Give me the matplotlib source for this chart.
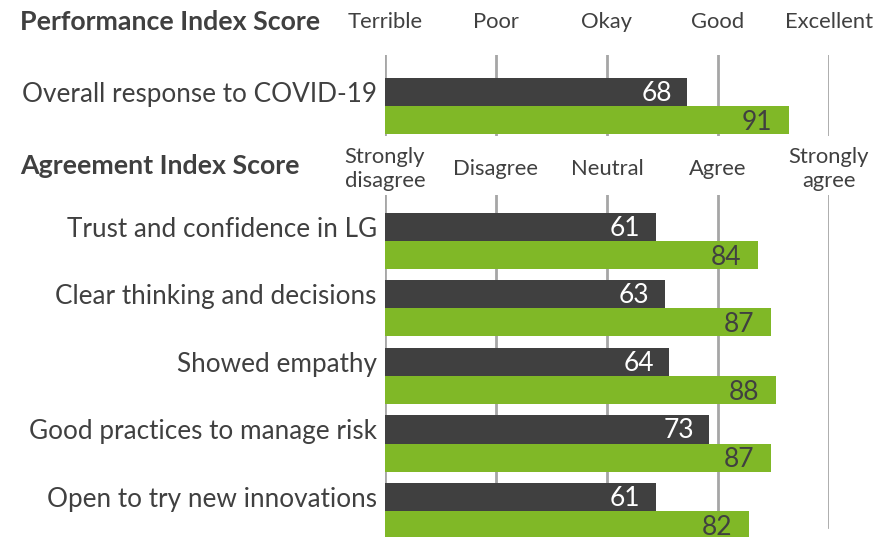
import numpy as np
import matplotlib
matplotlib.use('Agg')
import matplotlib.pyplot as plt

plt.rcParams['font.family'] = ['Lato', 'DejaVu Sans']

# 数据
perf_cats = ['Overall response to COVID-19']
perf_prev = [68]
perf_now = [91]
perf_ticks = ['Terrible', 'Poor', 'Okay', 'Good', 'Excellent']

agree_cats = ['Trust and confidence in LG', 'Clear thinking and decisions',
              'Showed empathy', 'Good practices to manage risk',
              'Open to try new innovations']
agree_prev = [61, 63, 64, 73, 61]
agree_now = [84, 87, 88, 87, 82]
agree_ticks = ['Strongly\ndisagree', 'Disagree', 'Neutral', 'Agree', 'Strongly\nagree']

tick_pos = [0, 25, 50, 75, 100]

DARK = '#404040'
GREEN = '#80B827'
GRID = '#A6A6A6'
TXT = '#404040'

W, H = 878, 537
fig = plt.figure(figsize=(W / 100, H / 100), dpi=100)


def px_axes(x0, y0, x1, y1):
    return fig.add_axes([x0 / W, 1 - y1 / H, (x1 - x0) / W, (y1 - y0) / H])


BH = 0.415  # bar height (in units of pair spacing)


def draw_panel(ax, cats, prev, now, ticks, title, ylim, grid_ymin, tick_y, title_y):
    n = len(cats)
    idx = np.arange(n)
    ax.barh(idx - BH / 2, prev, height=BH, color=DARK, zorder=2)
    ax.barh(idx + BH / 2, now, height=BH, color=GREEN, zorder=2)
    for i in range(n):
        ax.annotate(str(prev[i]), (prev[i], i - BH / 2), xytext=(-11, -1),
                    textcoords='offset points', ha='right', va='center',
                    color='white', fontsize=19, zorder=3)
        ax.annotate(str(now[i]), (now[i], i + BH / 2), xytext=(-12, -1.5),
                    textcoords='offset points', ha='right', va='center',
                    color=TXT, fontsize=19, zorder=3)
    for x in tick_pos:
        ax.axvline(x, ymin=grid_ymin, ymax=1, color=GRID, lw=2, zorder=1)
    ax.set_xlim(0, 100)
    ax.set_ylim(*ylim)
    ax.set_xticks([])
    ax.set_yticks(idx - BH / 2)
    ax.set_yticklabels(cats, fontsize=18.8, color=TXT)
    ax.tick_params(axis='y', length=0, pad=6)
    for s in ax.spines.values():
        s.set_visible(False)
    ax.patch.set_alpha(0)
    for x, t in zip(tick_pos, ticks):
        ax.text(x, tick_y, t, transform=ax.get_xaxis_transform(), ha='center',
                va='center', fontsize=15.8, color=TXT, linespacing=1.25, clip_on=False)
    fig.text(20 / W, 1 - title_y / H, title, fontsize=19.3, fontweight='bold',
             color=TXT, ha='left', va='center')


ax1 = px_axes(385, 55, 829, 136)
draw_panel(ax1, perf_cats, perf_prev, perf_now, perf_ticks,
           'Performance Index Score', (0.442, -0.752), 0.0,
           1 + 33 / 81, 22)

ax2 = px_axes(385, 195, 829, 537)
draw_panel(ax2, agree_cats, agree_prev, agree_now, agree_ticks,
           'Agreement Index Score', (4.385, -0.681), 0.03,
           1 + 26 / 342, 166)

fig.savefig('out.png', dpi=100)
